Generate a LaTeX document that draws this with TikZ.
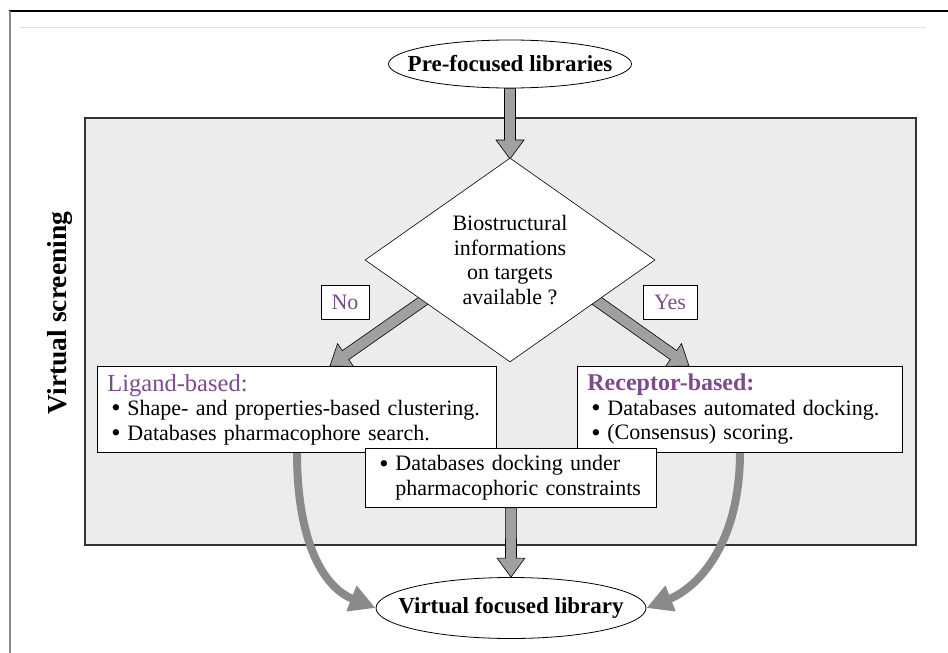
\documentclass[tikz,border=0pt]{standalone}
\usepackage{fontspec}
\setmainfont{Liberation Serif}
\usetikzlibrary{shapes.geometric,calc,arrows.meta}

\definecolor{panelgray}{RGB}{236,236,236}
\definecolor{arrowgray}{RGB}{160,160,160}
\definecolor{curvegray}{RGB}{138,138,138}
\definecolor{labelpurple}{RGB}{125,75,140}
\definecolor{framegray}{RGB}{136,136,136}
\definecolor{rulegray}{RGB}{224,224,224}

% block arrow with outlined shaft and head, from tail #1 to tip #2
\newcommand\blockarrow[2]{%
  \filldraw[blockstyle]
    ($(#1)!5.5pt!90:(#2)$)
    -- ($(#2)!19pt!(#1)!5.5pt!-90:(#1)$)
    -- ($(#2)!19pt!(#1)!14pt!-90:(#1)$)
    -- (#2)
    -- ($(#2)!19pt!(#1)!14pt!90:(#1)$)
    -- ($(#2)!19pt!(#1)!5.5pt!90:(#1)$)
    -- ($(#1)!5.5pt!-90:(#2)$) -- cycle;}

% centred label that does not widen its oval
\newcommand\ovaltext[1]{\makebox[0pt][c]{#1}}
% list bullet with its indent
\newcommand\itembullet{\hspace*{4pt}\makebox[16pt][l]{\smash{\raisebox{-1.4pt}{\scalebox{1.2}{\textbullet}}}}}

\tikzset{
  body/.style={font=\fontsize{22}{24.5}\selectfont},
  blockstyle/.style={fill=arrowgray, draw=black, line width=0.6pt, line join=miter},
  oval/.style={ellipse, draw=black, fill=white, line width=0.8pt, inner sep=0pt,
    font=\fontsize{23}{26}\selectfont\bfseries},
  textbox/.style={draw=black, fill=white, line width=0.8pt, inner xsep=10pt,
    inner ysep=0pt, align=left, anchor=north west, body},
  answer/.style={draw=black, fill=white, line width=0.8pt, inner sep=0pt,
    text=labelpurple, body},
  curved/.style={draw=curvegray, line width=8pt,
    -{Triangle[length=26pt,width=26pt]}}
}

\begin{document}
\begin{tikzpicture}[x=1pt,y=-1pt]
  \useasboundingbox (0,0) rectangle (948,653);
  \fill[white] (0,0) rectangle (948,653);

  % page frame
  \draw[black, line width=1.5pt] (9,11) -- (948,11);
  \draw[framegray, line width=2pt] (10,11) -- (10,653);
  \draw[rulegray, line width=1pt] (20,27) -- (926,27);

  % virtual screening panel
  \draw[fill=panelgray, draw=black!80, line width=1.2pt] (85,118) rectangle (916,545);
  \node[rotate=90, font=\fontsize{27.5}{30}\selectfont\bfseries] (vs) at (60,313) {Virtual screening};

  % start and end ovals
  \node[oval, minimum width=243pt, minimum height=48pt] (top) at (510,64)
    {\ovaltext{Pre-focused libraries}};
  \node[oval, minimum width=270pt, minimum height=61pt] (bot) at (511,608)
    {\ovaltext{Virtual focused library}};

  % arrow ends hidden under the decision diamond
  \coordinate (noT) at (440,289);
  \coordinate (yesT) at (580,289);
  \coordinate (noH) at (330,366);
  \coordinate (yesH) at (689,366);

  % block arrows
  \blockarrow{top.south}{510,159}
  \blockarrow{noT}{noH}
  \blockarrow{yesT}{yesH}

  % decision
  \node[diamond, draw=black, fill=white, line width=0.6pt, inner sep=0pt,
        minimum width=290pt, minimum height=200pt, align=center, body] (dia) at (510,260)
        {Biostructural\\informations\\on targets\\available ?};

  \node[answer, minimum width=48pt, minimum height=34pt] (no) at (345,302) {No};
  \node[answer, minimum width=54pt, minimum height=34pt] (yes) at (670,302) {Yes};

  % curved arrows to the focused library
  \coordinate (ligOut) at (297,452);
  \coordinate (recOut) at (740,452);
  \draw[curved] (ligOut) .. controls (297,545) and (325,588) .. (bot.west);
  \draw[curved] (recOut) .. controls (740,545) and (697,588) .. (bot.east);

  % method boxes
  \node[textbox, text width=379pt, minimum height=86pt] (lig) at (97,366)
    {{\fontsize{24.5}{24.5}\selectfont\color{labelpurple}Ligand-based:}\\
     \itembullet Shape- and properties-based clustering.\\
     \itembullet Databases pharmacophore search.};
  \node[textbox, text width=305pt, minimum height=86pt] (rec) at (577,366)
    {{\fontsize{24}{24.5}\selectfont\bfseries\color{labelpurple}Receptor-based:}\\
     \itembullet Databases automated docking.\\
     \itembullet (Consensus) scoring.};
  \node[textbox, text width=271pt, minimum height=59pt] (dock) at (365,448)
    {\itembullet Databases docking under\\
     \hspace*{20pt}pharmacophoric constraints};

  \blockarrow{dock.south}{bot.north}
\end{tikzpicture}
\end{document}
